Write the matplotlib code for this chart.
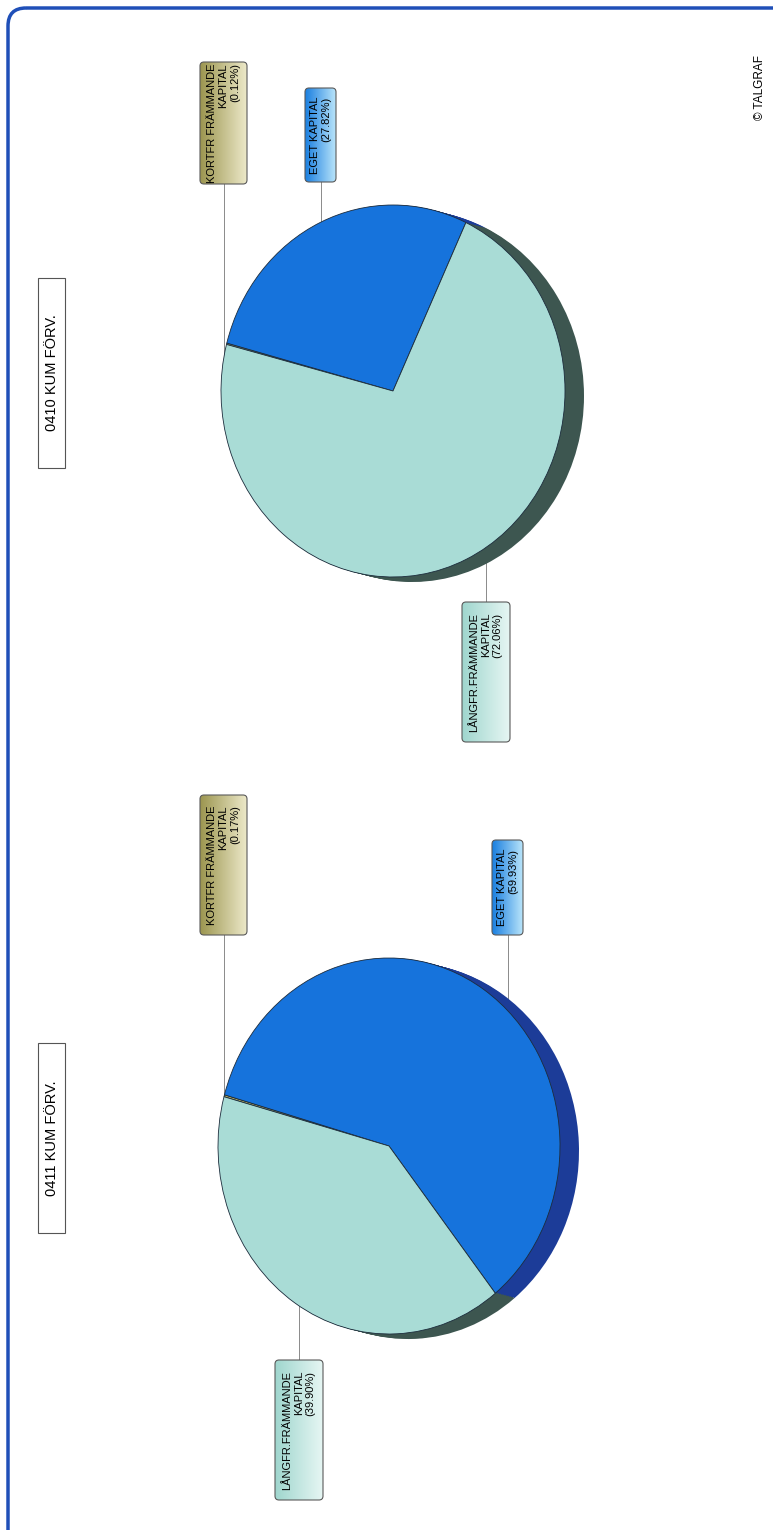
import numpy as np
import matplotlib
matplotlib.use("Agg")
import matplotlib.pyplot as plt
from matplotlib.patches import FancyBboxPatch
from matplotlib.colors import LinearSegmentedColormap

plt.rcParams['font.family'] = ['Liberation Sans', 'DejaVu Sans']

# data
titles = ["0410 KUM FÖRV.", "0411 KUM FÖRV."]
categories = ["KORTFR FRÄMMANDE KAPITAL", "EGET KAPITAL", "LÅNGFR.FRÄMMANDE KAPITAL"]
label_lines = [["KORTFR FRÄMMANDE", "KAPITAL"], ["EGET KAPITAL"], ["LÅNGFR.FRÄMMANDE", "KAPITAL"]]
values_0410 = [0.12, 27.82, 72.06]
values_0411 = [0.17, 59.93, 39.90]
all_values = [values_0410, values_0411]

# styles
face_colors = ['#b3ab5e', '#1673dc', '#a9dcd6']
side_colors = ['#5c5628', '#1c3c98', '#3d5650']
grad_colors = [('#9c9650', '#ece8c8'), ('#1a7fe0', '#b8e4fa'), ('#9fd6ce', '#e6f6f3')]
W, H = 773, 1530
start_angles = [165.5, 164.8]

# layout (pixel coords of the rotated page)
pie_geom = [dict(cx=393, cy=391, rx=172, ry=186), dict(cx=389, cy=1146, rx=171, ry=188)]
depth = (19, -5)
title_boxes = [(38, 278, 27, 190), (38, 1043, 27, 190)]
label_boxes = [
    [(200, 62, 47, 122, 'top'), (305, 88, 31, 94, 'top'), (462, 602, 48, 140, 'bottom')],
    [(200, 795, 47, 140, 'top'), (492, 840, 31, 95, 'top'), (275, 1360, 48, 140, 'bottom')],
]

fig = plt.figure(figsize=(W / 100, H / 100), dpi=100)
ax = fig.add_axes([0, 0, 1, 1])
ax.set_xlim(0, W)
ax.set_ylim(H, 0)
ax.axis('off')

# page border
border = FancyBboxPatch((8, 8), W + 40, H + 40, boxstyle="round,pad=0,rounding_size=18",
                        fill=False, edgecolor='#1f4fb8', linewidth=2.5)
ax.add_patch(border)

for i, values in enumerate(all_values):
    g = pie_geom[i]
    # title box
    bx, by, bw, bh = title_boxes[i]
    ax.add_patch(FancyBboxPatch((bx, by), bw, bh, boxstyle="square,pad=0",
                                facecolor='white', edgecolor='#555555', linewidth=0.8))
    ax.text(bx + bw / 2, by + bh / 2, titles[i], rotation=90, ha='center', va='center', fontsize=10.5)

    # pie axes
    dx, dy = depth
    left = (g['cx'] - g['rx']) / W
    bottom = 1 - (g['cy'] + g['ry'] - dy) / H
    pax = fig.add_axes([left, bottom, (2 * g['rx'] + dx) / W, (2 * g['ry'] - dy) / H])
    for k in np.linspace(1, 0.05, 12):
        pax.pie(values, colors=side_colors, startangle=start_angles[i], counterclock=False,
                center=(k * dx / g['rx'], k * dy / g['ry']), radius=1,
                wedgeprops=dict(linewidth=0))
    pax.pie(values, colors=face_colors, startangle=start_angles[i], counterclock=False,
            center=(0, 0), radius=1, wedgeprops=dict(edgecolor='#1c2c3c', linewidth=0.6))
    pax.set_aspect('auto')
    pax.set_xlim(-1, 1 + dx / g['rx'])
    pax.set_ylim(-1 + dy / g['ry'], 1)
    pax.axis('off')

    # labels
    for j, cat in enumerate(categories):
        x0, y0, w, h, side = label_boxes[i][j]
        xc = x0 + w / 2
        box = FancyBboxPatch((x0, y0), w, h, boxstyle="round,pad=0,rounding_size=4",
                             facecolor='none', edgecolor='#5a5a5a', linewidth=0.8, zorder=3)
        ax.add_patch(box)
        cmap = LinearSegmentedColormap.from_list('g', list(grad_colors[j]))
        grad = np.linspace(0, 1, 64).reshape(1, -1)
        im = ax.imshow(grad, cmap=cmap, extent=(x0, x0 + w, y0 + h, y0), aspect='auto', zorder=2)
        im.set_clip_path(box)
        txt = "\n".join(label_lines[j] + [f"({values[j]:.2f}%)"])
        ax.text(xc, y0 + h / 2, txt, rotation=90, ha='center', va='center',
                multialignment='right', fontsize=8, linespacing=1.2, zorder=4)
        # connector to the pie edge
        off = np.sqrt(max(0.0, 1 - ((xc - g['cx']) / g['rx']) ** 2)) * g['ry']
        if side == 'top':
            ax.plot([xc, xc], [y0 + h, g['cy'] - off], color='#8a8a8a', linewidth=0.7, zorder=1)
        else:
            ax.plot([xc, xc], [y0, g['cy'] + off], color='#8a8a8a', linewidth=0.7, zorder=1)

ax.text(760, 87, "© TALGRAF", rotation=90, ha='center', va='center', fontsize=8.5)
ax.set_xlim(0, W)
ax.set_ylim(H, 0)

fig.savefig("out.png", dpi=100)
